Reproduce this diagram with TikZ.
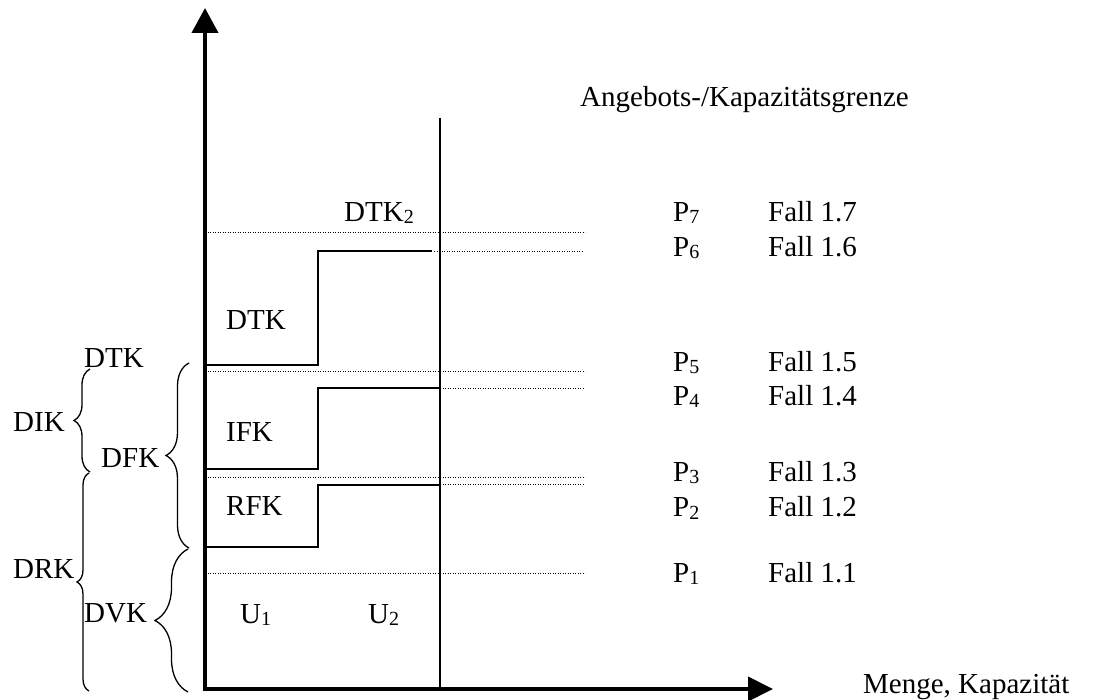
\documentclass[tikz,border=0pt]{standalone}
\usepackage{fontspec}
\setmainfont{Liberation Serif}
\usetikzlibrary{arrows.meta,decorations.pathreplacing}
\newcommand{\lowidx}[1]{\raisebox{-2pt}{\fontsize{20}{20}\selectfont #1}}

\begin{document}
\begin{tikzpicture}[x=1pt, y=-1pt,
    lbl/.style={anchor=base west, inner sep=0pt, font=\fontsize{29}{34}\selectfont},
    axis/.style={line width=4pt, {Triangle[length=25pt,width=26pt]}-{Triangle[length=25pt,width=24pt]}},
    stair/.style={line width=1.6pt},
    level/.style={line width=0.9pt, dash pattern=on 0.9pt off 1.6pt},
    curly/.style={line width=1.3pt, decorate, decoration={brace, amplitude=#1, aspect=0.5}},
    curly/.default=14pt]
    \useasboundingbox (0,0) rectangle (1093,700);

    % axes and capacity limit
    \coordinate (O) at (205,689);
    \coordinate (ytip) at (205,8);
    \coordinate (xtip) at (773,689);
    \coordinate (captop) at (440,118);
    \coordinate (capbot) at (440,689);
    \draw[axis] (ytip) -- (O) -- (xtip);
    \draw[line width=1.3pt] (captop) -- (capbot);

    % price levels
    \foreach \yl in {232, 371, 477, 573}
        \draw[level] (205,\yl) -- (585,\yl);
    \draw[level] (434,251) -- (583,251);
    \draw[level] (440,388) -- (583,388);
    \draw[level] (440,484) -- (583,484);

    % cost steps
    \draw[stair] (205,547) -- (318,547) -- (318,485) -- (440,485);
    \draw[stair] (205,469) -- (318,469) -- (318,388) -- (440,388);
    \draw[stair] (205,365) -- (318,365) -- (318,251) -- (432,251);

    % braces
    \draw[curly=16pt] (90,472) -- (90,369);
    \draw[curly=12pt] (89,691) -- (89,473);
    \draw[curly=23pt] (189,548) -- (189,363);
    \draw[curly=33pt] (188,692) -- (188,549);

    % labels
    \node[lbl] (angebot) at (580,107) {Angebots-/Kapazitätsgrenze};
    \node[lbl] (menge) at (863,693) {Menge, Kapazität};
    \node[lbl] (dtk2) at (344,222) {DTK\lowidx{2}};
    \node[lbl] (dtkin) at (226,330) {DTK};
    \node[lbl] (ifk) at (226,442) {IFK};
    \node[lbl] (rfk) at (226,515) {RFK};
    \node[lbl] (u1) at (240,623) {U\lowidx{1}};
    \node[lbl] (u2) at (368,623) {U\lowidx{2}};
    \node[lbl] (dtkout) at (84,368) {DTK};
    \node[lbl] (dik) at (13,432) {DIK};
    \node[lbl] (dfk) at (101,468) {DFK};
    \node[lbl] (drk) at (13,578) {DRK};
    \node[lbl] (dvk) at (84,622) {DVK};
    \foreach \i/\yb in {7/222, 6/257, 5/372, 4/406, 3/482, 2/517, 1/582} {
        \node[lbl] (p\i) at (673,\yb) {P\lowidx{\i}};
        \node[lbl] (fall\i) at (768,\yb) {Fall 1.\i};
    }
\end{tikzpicture}
\end{document}
